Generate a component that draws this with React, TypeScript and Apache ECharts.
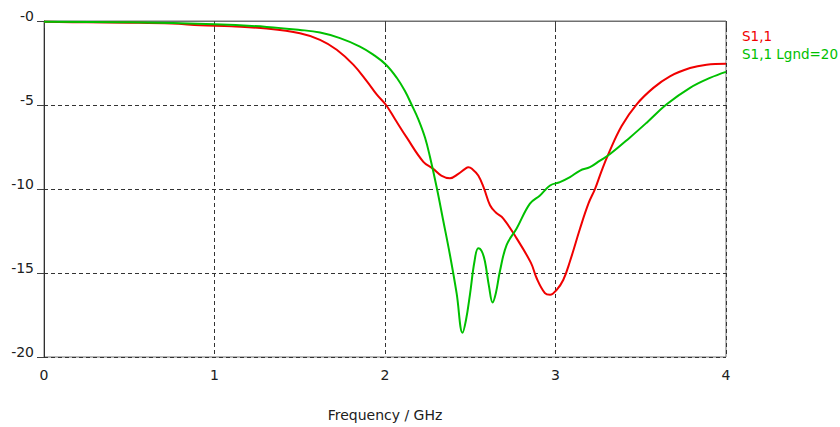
import React, { useEffect, useRef } from "react";
import * as echarts from "echarts";

// Frequency (GHz) and S1,1 (dB) for the reference antenna
const freqS11 = [0, 0.25, 0.5, 0.75, 0.915, 1.1, 1.306, 1.501, 1.619, 1.717, 1.814, 1.893, 1.951, 2.006, 2.059, 2.127, 2.225, 2.283, 2.33, 2.381, 2.43, 2.47, 2.489, 2.51, 2.547, 2.58, 2.616, 2.65, 2.694, 2.772, 2.856, 2.889, 2.938, 2.968, 3.007, 3.046, 3.085, 3.144, 3.193, 3.232, 3.271, 3.31, 3.388, 3.476, 3.574, 3.671, 3.789, 3.886, 4.0];
const valsS11 = [-0.05, -0.08, -0.1, -0.15, -0.25, -0.32, -0.45, -0.73, -1.12, -1.71, -2.6, -3.58, -4.37, -5.0, -5.85, -6.93, -8.38, -8.8, -9.2, -9.36, -9.1, -8.8, -8.71, -8.8, -9.2, -9.95, -10.97, -11.4, -11.76, -12.94, -14.4, -15.3, -16.2, -16.3, -16.0, -15.4, -14.3, -12.35, -10.87, -9.99, -8.9, -7.92, -6.25, -4.96, -3.98, -3.29, -2.8, -2.6, -2.54];

// Frequency (GHz) and S1,1 (dB) with Lgnd = 20
const freqLgnd = [0, 0.5, 1.0, 1.306, 1.501, 1.619, 1.736, 1.853, 1.931, 2.006, 2.069, 2.117, 2.157, 2.195, 2.235, 2.264, 2.303, 2.34, 2.381, 2.42, 2.455, 2.475, 2.498, 2.525, 2.547, 2.567, 2.586, 2.61, 2.631, 2.65, 2.674, 2.713, 2.772, 2.85, 2.909, 2.968, 3.026, 3.085, 3.144, 3.202, 3.261, 3.32, 3.437, 3.535, 3.652, 3.789, 3.906, 4.0];
const valsLgnd = [-0.05, -0.08, -0.2, -0.35, -0.53, -0.69, -1.02, -1.52, -2.0, -2.6, -3.38, -4.17, -5.0, -5.84, -6.95, -8.1, -9.9, -11.8, -13.93, -16.2, -18.56, -17.8, -16.3, -14.3, -13.53, -13.7, -14.3, -15.8, -16.75, -16.2, -14.9, -13.34, -12.35, -10.87, -10.38, -9.79, -9.59, -9.3, -8.9, -8.7, -8.31, -7.92, -6.93, -6.05, -4.96, -3.98, -3.39, -3.03];

const seriesNames = ["S1,1", "S1,1 Lgnd=20"];
const seriesColors = ["#f00000", "#00c000"];
const xTicks = [0, 1, 2, 3, 4];
const yTicks = [-20, -15, -10, -5, 0];
const xTitle = "Frequency / GHz";

const FONT = "DejaVu Sans";

export default function App() {
  const ref = useRef<HTMLDivElement>(null);
  useEffect(() => {
    if (!ref.current) return;
    const chart = echarts.init(ref.current, undefined, { renderer: "svg" });
    const pairs = (f: number[], v: number[]) => f.map((x, i) => [x, v[i]]);
    chart.setOption({
      animation: false,
      textStyle: { fontFamily: FONT },
      grid: {
        left: 44,
        right: 114,
        top: 21,
        bottom: 68,
        show: true,
        borderColor: "#707070",
        borderWidth: 1,
      },
      legend: {
        orient: "vertical",
        left: 732,
        top: 24,
        icon: "none",
        itemWidth: 0,
        itemHeight: 13,
        itemGap: 4,
        selectedMode: false,
        data: seriesNames.map((n, i) => ({
          name: n,
          textStyle: { color: seriesColors[i], fontSize: 13.5, fontFamily: FONT },
        })),
      },
      xAxis: {
        type: "value",
        min: xTicks[0],
        max: xTicks[xTicks.length - 1],
        interval: 1,
        name: xTitle,
        nameLocation: "middle",
        nameGap: 51,
        nameTextStyle: { color: "#202020", fontSize: 14, fontFamily: FONT },
        axisLine: { show: true, lineStyle: { color: "#707070", width: 1 } },
        axisTick: { show: true, length: 7, lineStyle: { color: "#404040" } },
        axisLabel: { color: "#202020", fontSize: 14, margin: 11, fontFamily: FONT },
        splitLine: { show: true, lineStyle: { color: "#333", type: [4, 3], width: 1 } },
      },
      yAxis: {
        type: "value",
        min: yTicks[0],
        max: yTicks[yTicks.length - 1],
        interval: 5,
        axisLine: { show: true, lineStyle: { color: "#303030", width: 1 } },
        axisTick: { show: true, length: 7, lineStyle: { color: "#404040" } },
        axisLabel: {
          color: "#202020",
          fontSize: 14,
          margin: 10,
          fontFamily: FONT,
          verticalAlign: "bottom",
          lineHeight: 10,
          formatter: (v: number) => (v === 0 ? "-0" : String(v)),
        },
        splitLine: { show: true, lineStyle: { color: "#333", type: [4, 3], width: 1 } },
      },
      series: [
        {
          name: seriesNames[0],
          type: "line",
          data: pairs(freqS11, valsS11),
          showSymbol: false,
          smooth: 0.4,
          lineStyle: { color: seriesColors[0], width: 2 },
          itemStyle: { color: seriesColors[0] },
          z: 3,
        },
        {
          name: seriesNames[1],
          type: "line",
          data: pairs(freqLgnd, valsLgnd),
          showSymbol: false,
          smooth: 0.4,
          lineStyle: { color: seriesColors[1], width: 2 },
          itemStyle: { color: seriesColors[1] },
          z: 4,
        },
      ],
    });
    return () => chart.dispose();
  }, []);
  return (
    <div
      ref={ref}
      style={{ position: "fixed", left: 0, top: 0, width: 840, height: 427, background: "#fff" }}
    />
  );
}
